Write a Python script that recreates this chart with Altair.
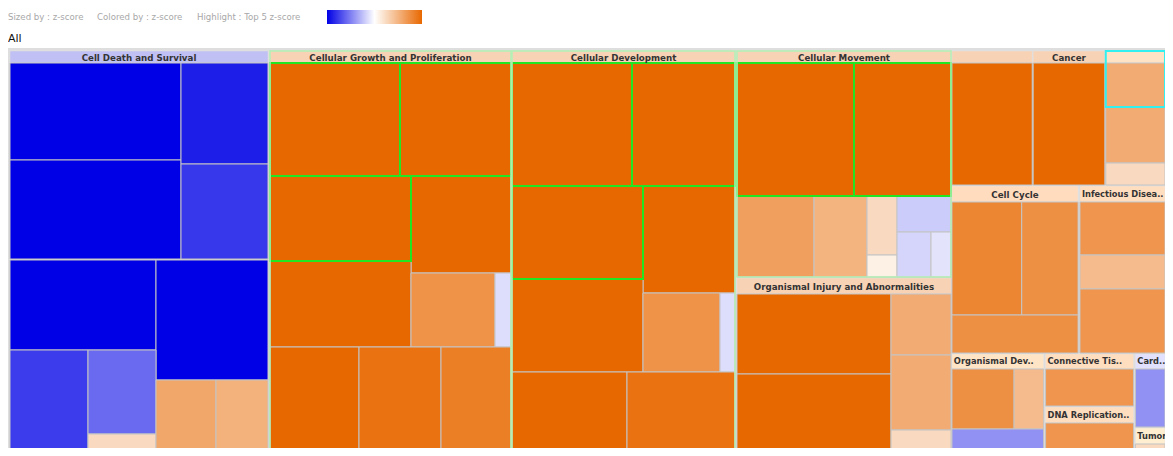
import altair as alt
import pandas as pd

# ---- treemap layout (treemap units: pixels of the reference)
group_name = ["Cell Death and Survival", "Cellular Growth and Proliferation", "Cellular Development",
              "Cellular Movement", "Organismal Injury and Abnormalities", "", "Cancer", "",
              "Cell Cycle", "Infectious Disea..", "Organismal Dev..", "Connective Tis..",
              "DNA Replication..", "Card..", "Tumor Morphology"]
group_x0 = [10, 270, 512, 737, 737, 952, 1037, 1113, 952, 1086, 952, 1050, 1050, 1144, 1144]
group_x1 = [268, 511, 735, 951, 951, 1036, 1112, 1175, 1084, 1175, 1048, 1142, 1142, 1175, 1175]
group_y0 = [51, 51, 51, 51, 278, 51, 51, 51, 186, 186, 354, 354, 407, 354, 428]
group_h1 = [63, 63, 63, 63, 294, 63, 63, 63, 202, 202, 369, 369, 423, 369, 444]
group_y1 = [460, 460, 460, 277, 460, 185, 185, 185, 353, 353, 460, 406, 460, 427, 460]
group_z = [-6, 6, 6, 6, 6, 6, 6, 3.3, 4.4, 4.2, 3.0, 4.2, 4.2, -2.6, 1.5]
group_top5 = [False, True, True, True, False, False, False, False, False, False, False, False, False, False, False]

cell_x0 = [10, 10, 181, 181, 10, 156, 10, 88, 88, 156, 216,
           270, 400, 270, 411, 270, 411, 495, 270, 359, 441,
           512, 632, 512, 643, 512, 643, 720, 512, 627,
           737, 854, 737, 814, 867, 867, 897, 897, 931,
           737, 737, 891, 891, 891,
           952, 1037, 1113, 1113, 1113,
           952, 1025, 952, 1086, 1086, 1086,
           952, 1017, 952, 1050, 1050, 1144, 1144]
cell_x1 = [181, 181, 268, 268, 156, 268, 88, 156, 156, 216, 268,
           400, 511, 411, 511, 411, 495, 511, 359, 441, 511,
           632, 735, 643, 735, 643, 720, 735, 627, 735,
           854, 951, 814, 867, 897, 897, 951, 931, 951,
           891, 891, 951, 951, 951,
           1036, 1112, 1175, 1175, 1175,
           1025, 1084, 1084, 1175, 1175, 1175,
           1017, 1048, 1048, 1142, 1142, 1175, 1175]
cell_y0 = [63, 160, 63, 164, 260, 260, 350, 350, 434, 380, 380,
           63, 63, 176, 176, 261, 273, 273, 347, 347, 347,
           63, 63, 186, 186, 279, 293, 293, 372, 372,
           63, 63, 196, 196, 196, 255, 196, 232, 232,
           294, 374, 294, 355, 430,
           63, 63, 63, 107, 163,
           202, 202, 315, 202, 255, 289,
           369, 369, 429, 369, 423, 369, 444]
cell_y1 = [160, 259, 164, 259, 350, 380, 460, 434, 460, 460, 460,
           176, 176, 261, 273, 347, 347, 347, 460, 460, 460,
           186, 186, 279, 293, 372, 372, 372, 460, 460,
           196, 196, 277, 277, 255, 277, 232, 277, 277,
           374, 460, 355, 430, 460,
           185, 185, 107, 163, 185,
           315, 315, 353, 255, 289, 353,
           429, 429, 460, 406, 460, 427, 460]
cell_z = [-6, -6, -5.3, -4.7, -6, -6, -4.6, -3.5, 1.5, 3.5, 3.1,
          6, 6, 6, 6, 6, 4.3, -0.8, 6, 5.6, 5.1,
          6, 6, 6, 6, 6, 4.3, -0.8, 6, 5.6,
          6, 6, 3.8, 3.0, 1.5, 0.6, -1.2, -1.0, -0.65,
          6, 6, 3.3, 3.3, 1.5,
          6, 6, 3.3, 3.3, 1.5,
          4.8, 4.4, 4.4, 4.2, 2.7, 4.2,
          4.4, 2.7, -2.6, 4.2, 4.2, -2.6, 1.5]
cell_hl = ["none"] * len(cell_z)
for i in [11, 12, 13, 21, 22, 23, 30, 31]:
    cell_hl[i] = "top5"

legend_texts = ["Sized by : z-score", "Colored by : z-score", "Highlight : Top 5 z-score"]
legend_x = [8, 97, 197]

W, H = 1157, 440
# piecewise x scale: exact up to 951, the last columns squeezed slightly so they fit the page
XD = [8, 951, 1175]
XR = [0, 943, W]
YD = [8, 8 + H]

groups = pd.DataFrame(dict(name=group_name, x0=group_x0, x1=group_x1, y0=group_y0,
                           h1=group_h1, y1=group_y1, z=group_z, top5=group_top5))
is_left = [(n.endswith("..") or n == "Tumor Morphology") for n in group_name]
groups["lx"] = [a + 2 if l else (a + b) / 2 for a, b, l in zip(group_x0, group_x1, is_left)]
groups["align"] = ["left" if l else "center" for l in is_left]
groups["ly"] = (groups.y0 + groups.h1) / 2 + 0.5
cells = pd.DataFrame(dict(x0=cell_x0, x1=cell_x1, y0=cell_y0, y1=cell_y1, z=cell_z, hl=cell_hl))

xs = alt.Scale(domain=XD, range=XR)
ys = alt.Scale(domain=YD, reverse=True)


def X(f):
    return alt.X(f, type="quantitative", scale=xs, axis=None)


def Y(f):
    return alt.Y(f, type="quantitative", scale=ys, axis=None)


frame = pd.DataFrame(dict(x0=[8], x1=[1175], y0=[48], y1=[460]))
bg = alt.Chart(frame).mark_rect(fill="#dedede", clip=True).encode(
    x=X("x0"), x2="x1", y=Y("y0"), y2="y1")

gbody = alt.Chart(groups).mark_rect(fill="#e4e4e4", clip=True).encode(
    x=X("x0"), x2="x1", y=Y("y0"), y2="y1")

header = alt.Chart(groups).mark_rect(clip=True, stroke="#e0e0e0", strokeWidth=0.5).encode(
    x=X("x0"), x2="x1", y=Y("y0"), y2="h1",
    color=alt.Color("z:Q", scale=alt.Scale(domain=[-6, 0, 6], range=["#c0c0f4", "#ffffff", "#f8d2b4"],
                                            clamp=True), legend=None))

cell = alt.Chart(cells).mark_rect(clip=True, stroke="#c4c4c4", strokeWidth=1).encode(
    x=X("x0"), x2="x1", y=Y("y0"), y2="y1",
    color=alt.Color("z:Q", scale=alt.Scale(domain=[-6, 0, 6], range=["#0000e6", "#ffffff", "#e86800"],
                                            clamp=True, interpolate="rgb"),
                    legend=alt.Legend(orient="none", legendX=319, legendY=2, direction="horizontal",
                                      gradientLength=95, gradientThickness=14, labelOpacity=0,
                                      labelFontSize=1, title=None, padding=0, gradientStrokeWidth=0)))

hl_top = alt.Chart(cells).transform_filter(alt.datum.hl == "top5").mark_rect(
    clip=True, fillOpacity=0, stroke="#22e622", strokeWidth=2).encode(
    x=X("x0"), x2="x1", y=Y("y0"), y2="y1")

gframe = alt.Chart(groups).transform_filter(alt.datum.top5).mark_rect(
    clip=True, fillOpacity=0, stroke="#b4f0b4", strokeWidth=1.5).encode(
    x=X("x0"), x2="x1", y=Y("y0"), y2="y1")

sel = pd.DataFrame(dict(x0=[1113], x1=[1175], y0=[51], y1=[107]))
hl_sel = alt.Chart(sel).mark_rect(clip=True, fillOpacity=0, stroke="#33f0f0", strokeWidth=2).encode(
    x=X("x0"), x2="x1", y=Y("y0"), y2="y1")

lab_c = alt.Chart(groups).transform_filter(alt.datum.align == "center").mark_text(
    clip=True, font="DejaVu Sans", fontWeight="bold", fontSize=8.7, color="#333333",
    align="center", baseline="middle").encode(x=X("lx"), y=Y("ly"), text="name:N")
lab_l = alt.Chart(groups).transform_filter(alt.datum.align == "left").mark_text(
    clip=True, font="DejaVu Sans", fontWeight="bold", fontSize=8.3, color="#333333",
    align="left", baseline="middle").encode(x=X("lx"), y=Y("ly"), text="name:N")

leg = pd.DataFrame(dict(t=legend_texts, x=legend_x, y=[17] * 3))
legtxt = alt.Chart(leg).mark_text(font="DejaVu Sans", fontSize=8.6, color="#a8a8a8",
                                  align="left", baseline="middle").encode(
    x=X("x"), y=Y("y"), text="t:N")

alltxt = alt.Chart(pd.DataFrame(dict(t=["All"], x=[8], y=[39]))).mark_text(
    font="DejaVu Sans", fontSize=11, color="#111111", align="left", baseline="middle").encode(
    x=X("x"), y=Y("y"), text="t:N")

chart = alt.layer(bg, gbody, header, cell, hl_top, gframe, hl_sel, lab_c, lab_l, legtxt, alltxt).resolve_scale(
    color="independent").properties(width=W, height=H, padding=0, autosize="none").configure_view(strokeWidth=0)

chart.save("out.html", embed_options={"renderer": "svg", "actions": False})
